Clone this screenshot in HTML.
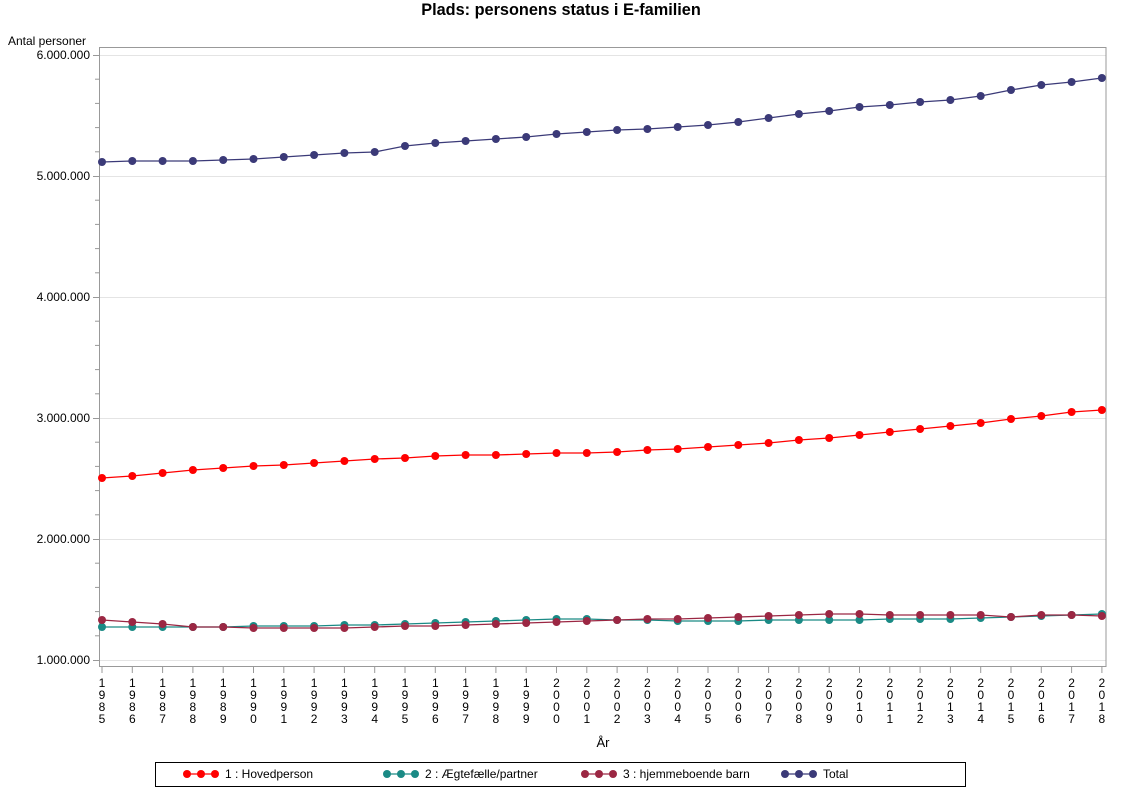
<!DOCTYPE html>
<html><head><meta charset="utf-8"><style>
body{margin:0;background:#fff;font-family:"Liberation Sans",sans-serif;}
svg text{font-family:"Liberation Sans",sans-serif;}
</style></head><body>
<svg id="s" width="1122" height="793" xmlns="http://www.w3.org/2000/svg">
<rect width="1122" height="793" fill="#fff"/>
<text x="561" y="15" text-anchor="middle" font-size="16.3" font-weight="bold">Plads: personens status i E-familien</text>
<text x="8" y="45" font-size="12">Antal personer</text>
<g id="grid"></g>
<rect x="99.5" y="47.5" width="1006.5" height="619" fill="none" stroke="#999"/>
<g id="axes"></g>
<g id="series"></g>
<text x="603" y="747" text-anchor="middle" font-size="13">År</text>
<rect x="155.5" y="762.5" width="810" height="24" fill="none" stroke="#000"/>
<g id="legend"></g>
</svg>
<script>
var NS="http://www.w3.org/2000/svg",s=document.getElementById('s');
function el(p,t,a,txt){var e=document.createElementNS(NS,t);for(var k in a)e.setAttribute(k,a[k]);if(txt!=null)e.textContent=txt;document.getElementById(p).appendChild(e);return e;}
var labs=["1.000.000","2.000.000","3.000.000","4.000.000","5.000.000","6.000.000"];
for(var i=0;i<6;i++){var y=660-i*121;
 el('grid','line',{x1:100,x2:1106,y1:y+.5,y2:y+.5,stroke:"#e4e4e4"});
 el('axes','line',{x1:93,x2:99,y1:y+.5,y2:y+.5,stroke:"#999"});
 el('axes','text',{x:90,y:y+4,"text-anchor":"end","font-size":"12"},labs[i]);
 if(i<5)for(var j=1;j<5;j++){var yy=y-j*24.2;el('axes','line',{x1:95,x2:99,y1:yy,y2:yy,stroke:"#999"});}
}
for(var i=0;i<34;i++){var x=102+i*30.3,yr=String(1985+i);
 el('axes','line',{x1:x,x2:x,y1:667,y2:673,stroke:"#999"});
 for(var c=0;c<4;c++)el('axes','text',{x:x,y:687+c*12,"text-anchor":"middle","font-size":"12"},yr[c]);
}
var data={
"#3b3a78":[162,161,161,161,160,159,157,155,153,152,146,143,141,139,137,134,132,130,129,127,125,122,118,114,111,107,105,102,100,96,90,85,82,78],
"#ff0000":[478,476,473,470,468,466,465,463,461,459,458,456,455,455,454,453,453,452,450,449,447,445,443,440,438,435,432,429,426,423,419,416,412,410],
"#1a8a85":[627,627,627,627,627,626,626,626,625,625,624,623,622,621,620,619,619,620,620,621,621,621,620,620,620,620,619,619,619,618,617,616,615,614],
"#9b2743":[620,622,624,627,627,628,628,628,628,627,626,626,625,624,623,622,621,620,619,619,618,617,616,615,614,614,615,615,615,615,617,615,615,616]};
for(var c in data){var d=data[c],pts=d.map(function(v,i){return (102+i*30.3)+","+v;}).join(" ");
 el('series','polyline',{points:pts,fill:"none",stroke:c,"stroke-width":1.3});
 d.forEach(function(v,i){el('series','circle',{cx:102+i*30.3,cy:v,r:4,fill:c});});
}
var leg=[["#ff0000","1 : Hovedperson",187],["#1a8a85","2 : Ægtefælle/partner",387],["#9b2743","3 : hjemmeboende barn",585],["#3b3a78","Total",785]];
leg.forEach(function(l){var x=l[2];
 el('legend','line',{x1:x,x2:x+28,y1:774,y2:774,stroke:l[0],"stroke-width":1.3});
 for(var k=0;k<3;k++)el('legend','circle',{cx:x+k*14,cy:774,r:4,fill:l[0]});
 el('legend','text',{x:x+38,y:778,"font-size":"12"},l[1]);
});
</script>
</body></html>
